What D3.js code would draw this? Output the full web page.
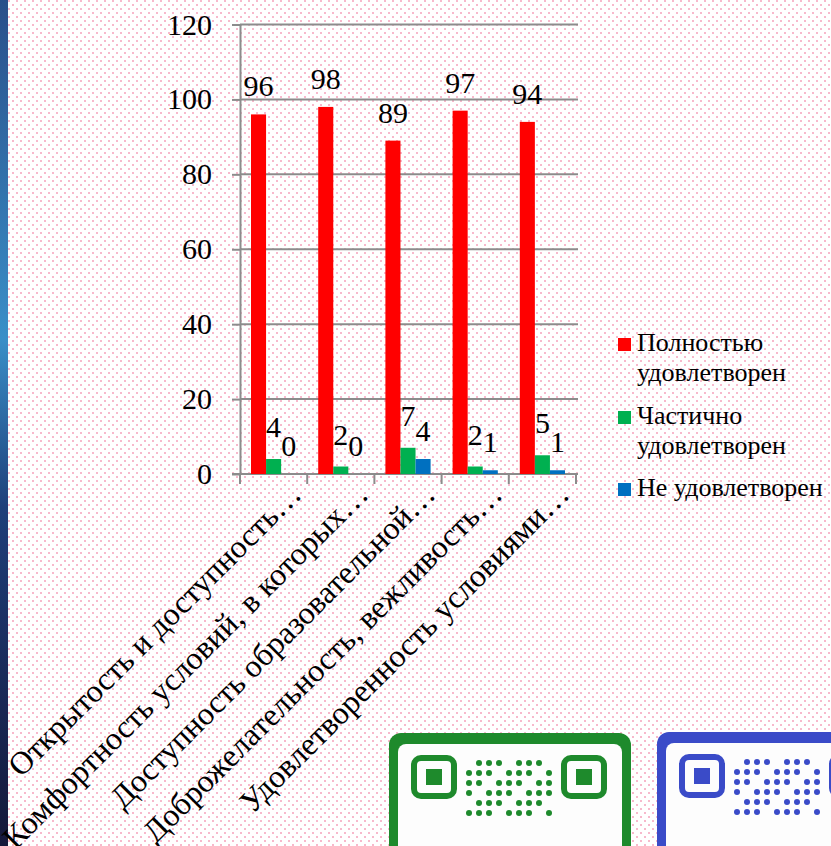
<!DOCTYPE html>
<html>
<head>
<meta charset="utf-8">
<script src="https://cdn.jsdelivr.net/npm/d3@7"></script>
<style>
  body { margin: 0; background: #fff; font-family: "Liberation Serif", "Times New Roman", serif; }
  #chart { position: relative; width: 831px; height: 846px; overflow: hidden; }
  #chart svg { position: absolute; left: 0; top: 0; display: block; }
  .lbl { position: absolute; white-space: nowrap; line-height: 1; color: #000;
         font-family: "Liberation Serif", "Times New Roman", serif; }
  #warm { position: absolute; left: -9999px; top: 0; font-family: "Liberation Serif"; }
</style>
</head>
<body>
<div id="warm">0123456789 Открытость Комфортность Доступность Доброжелательность Удовлетворенность Полностью Частично Не удовлетворен…</div>
<div id="chart"></div>
<script>
var categories = [
  "Открытость и доступность…",
  "Комфортность условий, в которых…",
  "Доступность образовательной…",
  "Доброжелательность, вежливость…",
  "Удовлетворенность условиями…"
];
var seriesNames = ["Полностью удовлетворен", "Частично удовлетворен", "Не удовлетворен"];
var legendLines = [["Полностью", "удовлетворен"], ["Частично", "удовлетворен"], ["Не удовлетворен"]];
var fullValues = [96, 98, 89, 97, 94];
var partValues = [4, 2, 7, 2, 5];
var noneValues = [0, 0, 4, 1, 1];
var yTicks = [0, 20, 40, 60, 80, 100, 120];
var colors = ["#ff0000", "#00b050", "#0070c0"];

var W = 831, H = 846;
var chart = d3.select("#chart");
var svg = chart.append("svg")
    .attr("width", W)
    .attr("height", H);

// text is placed as html so the serif face is used
function label(x, y, txt, size, transform, origin) {
  return chart.append("div")
      .attr("class", "lbl")
      .style("left", x + "px")
      .style("top", y + "px")
      .style("font-size", size + "px")
      .style("transform", transform)
      .style("transform-origin", origin || "50% 50%")
      .text(txt);
}

// background dots
var defs = svg.append("defs");
var pat = defs.append("pattern")
    .attr("id", "dots")
    .attr("width", 8).attr("height", 8)
    .attr("patternUnits", "userSpaceOnUse");
pat.append("rect").attr("x", 0).attr("y", 0).attr("width", 2).attr("height", 2).attr("fill", "#f7b9cc");
pat.append("rect").attr("x", 4).attr("y", 4).attr("width", 2).attr("height", 2).attr("fill", "#f7b9cc");
svg.append("rect").attr("width", W).attr("height", H).attr("fill", "url(#dots)");

var grad = defs.append("linearGradient").attr("id", "edge")
    .attr("x1", 0).attr("y1", 0).attr("x2", 0).attr("y2", 1);
grad.append("stop").attr("offset", "0%").attr("stop-color", "#2a4f8a");
grad.append("stop").attr("offset", "40%").attr("stop-color", "#3a8fc8");
grad.append("stop").attr("offset", "60%").attr("stop-color", "#1f3f7a");
grad.append("stop").attr("offset", "100%").attr("stop-color", "#15173a");
svg.append("rect").attr("width", 8).attr("height", H).attr("fill", "url(#edge)");

// qr frames at the bottom
function qrFrame(x, y, col) {
  var g = svg.append("g").attr("transform", "translate(" + x + "," + y + ")");
  g.append("rect").attr("width", 242).attr("height", 140).attr("rx", 12).attr("fill", col);
  g.append("rect").attr("x", 9).attr("y", 11).attr("width", 224).attr("height", 140).attr("rx", 8).attr("fill", "#fdfdfd");
  [[25, 25], [175, 25]].forEach(function(p) {
    g.append("rect").attr("x", p[0]).attr("y", p[1]).attr("width", 40).attr("height", 38)
      .attr("rx", 7).attr("fill", "none").attr("stroke", col).attr("stroke-width", 6);
    g.append("rect").attr("x", p[0] + 12).attr("y", p[1] + 11).attr("width", 16).attr("height", 16)
      .attr("fill", col);
  });
  for (var i = 0; i < 9; i++) {
    for (var j = 0; j < 6; j++) {
      if ((i * 7 + j * 3) % 4 !== 0) {
        g.append("circle").attr("cx", 80 + i * 10).attr("cy", 30 + j * 10).attr("r", 3).attr("fill", col);
      }
    }
  }
}
qrFrame(389, 733, "#1e8a2c");
qrFrame(657, 732, "#3a4bc8");

var plotLeft = 240, plotRight = 576, plotTop = 24.5, plotBottom = 474;

var x0 = d3.scaleBand().domain(categories).range([plotLeft, plotRight]).padding(0);
var x1 = d3.scaleBand().domain(d3.range(3)).range([11, x0.bandwidth() - 11]).padding(0);
var y = d3.scaleLinear().domain([0, 120]).range([plotBottom, plotTop]);

// gridlines
svg.append("g").selectAll("line")
  .data(yTicks.slice(1))
  .enter().append("line")
    .attr("x1", plotLeft).attr("x2", plotRight + 2)
    .attr("y1", function(d) { return y(d); })
    .attr("y2", function(d) { return y(d); })
    .attr("stroke", "#8c8c8c").attr("stroke-width", 2);

// y axis
var yAxis = svg.append("g")
    .attr("transform", "translate(" + plotLeft + ",0)")
    .call(d3.axisLeft(y).tickValues(yTicks).tickSize(8).tickSizeOuter(0).tickFormat(""));
yAxis.select(".domain").attr("stroke", "#8c8c8c").attr("stroke-width", 2);
yAxis.selectAll(".tick line").attr("stroke", "#8c8c8c").attr("stroke-width", 2);
yAxis.selectAll(".tick text").remove();
yTicks.forEach(function(t) {
  label(plotLeft - 28, y(t), String(t), 30, "translate(-100%, -50%)");
});

// x axis
var xAxis = svg.append("g")
    .attr("transform", "translate(0," + plotBottom + ")");
xAxis.append("line").attr("x1", plotLeft - 8).attr("x2", plotRight + 2)
    .attr("stroke", "#8c8c8c").attr("stroke-width", 2);
xAxis.selectAll(".sep")
  .data(d3.range(categories.length + 1))
  .enter().append("line")
    .attr("x1", function(i) { return i < categories.length ? x0(categories[i]) : plotRight; })
    .attr("x2", function(i) { return i < categories.length ? x0(categories[i]) : plotRight; })
    .attr("y1", 0).attr("y2", 10)
    .attr("stroke", "#8c8c8c").attr("stroke-width", 2);

categories.forEach(function(c) {
  label(x0(c) + x0.bandwidth() / 2 + 29, plotBottom + 22, c, 32,
        "rotate(-45deg) translate(-100%, -84%)", "0 0");
});

// bars
var rows = categories.map(function(c, i) {
  return { cat: c, vals: [fullValues[i], partValues[i], noneValues[i]] };
});
var groups = svg.append("g").selectAll("g")
  .data(rows)
  .enter().append("g")
    .attr("transform", function(d) { return "translate(" + x0(d.cat) + ",0)"; });

groups.selectAll("rect")
  .data(function(d) { return d.vals; })
  .enter().append("rect")
    .attr("x", function(d, i) { return x1(i); })
    .attr("width", x1.bandwidth())
    .attr("y", function(d) { return y(d); })
    .attr("height", function(d) { return plotBottom - y(d); })
    .attr("fill", function(d, i) { return colors[i]; });

// value labels
rows.forEach(function(r) {
  r.vals.forEach(function(v, i) {
    var cx = x0(r.cat) + x1(i) + x1.bandwidth() / 2;
    label(cx, y(v) - (i === 1 ? 22 : 18), String(v), 30, "translate(-50%, -84%)");
  });
});

// legend
var legendY = [338, 411, 483];
seriesNames.forEach(function(name, i) {
  svg.append("rect")
      .attr("x", 618).attr("y", legendY[i])
      .attr("width", 13).attr("height", 13)
      .attr("fill", colors[i]);
  legendLines[i].forEach(function(line, k) {
    label(637, legendY[i] + 14 + k * 30, line, 26, "translate(0, -84%)");
  });
});
</script>
</body>
</html>
